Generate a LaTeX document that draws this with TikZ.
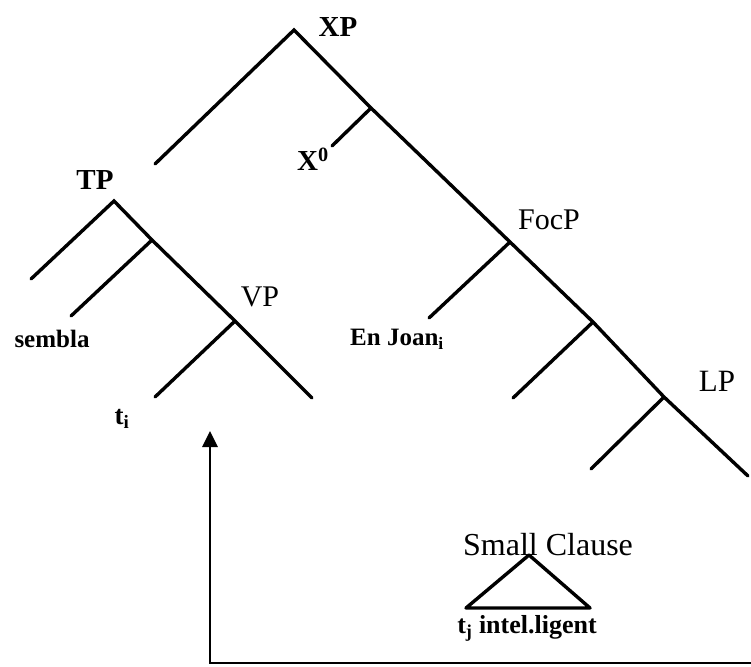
\documentclass[tikz,border=0pt]{standalone}
\usepackage{fontspec}
\setmainfont{Liberation Serif}
\usepackage{tikz}
\usetikzlibrary{arrows.meta}
\tikzstyle{branch} = [line width=3.4pt, line cap=round]
\tikzstyle{cat} = [inner sep=0pt, font=\fontsize{30}{32}\selectfont]
\tikzstyle{word} = [inner sep=0pt, font=\fontsize{25}{27}\selectfont\bfseries]
\tikzstyle{arrow} = [line width=2.8pt, -{Triangle[length=16pt,width=15pt]}]

\begin{document}
\begin{tikzpicture}[x=1pt, y=-1pt]
    \useasboundingbox (0,0) rectangle (751,666);

    % XP spine
    \coordinate (xp) at (294,30);
    \coordinate (xpleft) at (155,164);
    \coordinate (xzero) at (371,108);
    \coordinate (xzeroleaf) at (332,146);
    \coordinate (foc) at (510,242);
    \coordinate (focleaf) at (429,318);
    \coordinate (focbar) at (593,322);
    \coordinate (focbarleaf) at (513,398);
    \coordinate (lp) at (664,397);
    \coordinate (lpleft) at (591,469);
    \coordinate (lpright) at (748,476);

    % TP subtree
    \coordinate (tp) at (114,201);
    \coordinate (tpleft) at (31,279);
    \coordinate (tbar) at (152,240);
    \coordinate (tbarleaf) at (71,316);
    \coordinate (vp) at (235,321);
    \coordinate (vpleft) at (155,397);
    \coordinate (vpright) at (312,398);

    % small clause
    \coordinate (sc) at (529,555);
    \coordinate (scleft) at (466,608);
    \coordinate (scright) at (590,608);

    % movement
    \coordinate (mvstart) at (751,663);
    \coordinate (mvcorner) at (210,663);
    \coordinate (mvend) at (210,431);

    \node (xplab) [cat, font=\fontsize{29}{31}\selectfont\bfseries] at (338,27) {XP};
    \node (xzerolab) [cat, font=\fontsize{29}{31}\selectfont\bfseries] at (313,159) {X\textsuperscript{0}};
    \node (tplab) [cat, font=\fontsize{29}{31}\selectfont\bfseries] at (95,180) {TP};
    \node (vplab) [cat] at (260,297) {VP};
    \node (foclab) [cat] at (549,220) {FocP};
    \node (lplab) [cat, font=\fontsize{31}{33}\selectfont] at (717,381) {LP};
    \node (sembla) [word] at (52,339) {sembla};
    \node (joan) [word] at (397,339) {En Joan\textsubscript{i}};
    \node (ti) [word, font=\fontsize{27}{29}\selectfont\bfseries] at (122,419) {t\textsubscript{i}};
    \node (sclab) [cat, font=\fontsize{32}{34}\selectfont] at (548,545) {Small Clause};
    \node (tj) [word, font=\fontsize{26}{28}\selectfont\bfseries] at (527,628) {t\textsubscript{j} intel.ligent};

    \draw [branch] (xpleft) -- (xp) -- (xzero) -- (foc) -- (focbar) -- (lp) -- (lpright);
    \draw [branch] (xzero) -- (xzeroleaf);
    \draw [branch] (foc) -- (focleaf);
    \draw [branch] (focbar) -- (focbarleaf);
    \draw [branch] (lp) -- (lpleft);

    \draw [branch] (tpleft) -- (tp) -- (tbar) -- (vp) -- (vpright);
    \draw [branch] (tbar) -- (tbarleaf);
    \draw [branch] (vp) -- (vpleft);

    \draw [branch, line join=round] (sc) -- (scleft) -- (scright) -- cycle;

    \draw [arrow] (mvstart) -- (mvcorner) -- (mvend);
\end{tikzpicture}
\end{document}
